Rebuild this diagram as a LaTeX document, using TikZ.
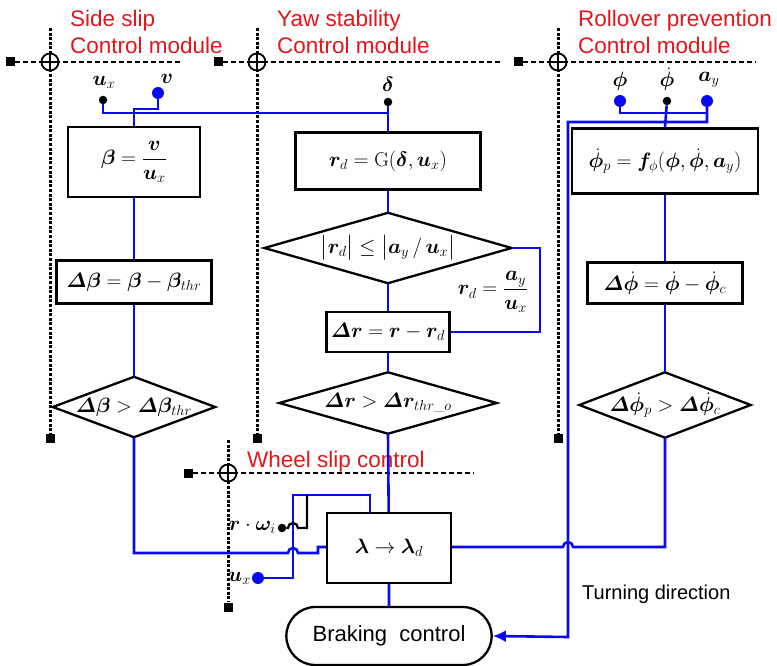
\documentclass[tikz,border=0pt]{standalone}
\usepackage{amsmath}
\usepackage{bm}
\usepackage{fontspec}
\setsansfont{Liberation Sans}
\usetikzlibrary{shapes.misc,arrows.meta}

\definecolor{modred}{RGB}{228,22,28}
\definecolor{wire}{RGB}{10,10,240}
\newcommand{\eqsize}{\fontsize{20}{24}\selectfont}

\begin{document}
\begin{tikzpicture}[x=1pt, y=-1pt,
    blk/.style={draw, line width=2.3pt, inner sep=0pt, font=\eqsize},
    cond/.style={inner sep=0pt, font=\eqsize},
    outline/.style={line width=2.3pt, line join=miter},
    flow/.style={draw=wire, line width=2.6pt},
    modtext/.style={text=modred, font=\sffamily\fontsize{22.5}{27}\selectfont, inner sep=0pt, anchor=base west},
    guide/.style={line width=2.8pt, dash pattern=on 5pt off 3pt},
    vguide/.style={line width=3pt, dash pattern=on 3pt off 1.6pt},
    sq/.style={fill=black, minimum size=9pt, inner sep=0pt},
    cross/.style={circle, draw, line width=1.8pt, minimum size=17pt, inner sep=0pt, fill=white,
        path picture={\draw[line width=1.8pt] (path picture bounding box.north) -- (path picture bounding box.south)
            (path picture bounding box.west) -- (path picture bounding box.east);}},
    bdot/.style={circle, fill=wire, minimum size=12pt, inner sep=0pt},
    kdot/.style={circle, fill=black, minimum size=8.5pt, inner sep=0pt},
    sym/.style={font=\eqsize, inner sep=0pt}
]
\useasboundingbox (0,0) rectangle (777,666);

% module frames
\node[sq] (sqA) at (10,62) {};
\node[sq] (sqAb) at (50,438) {};
\coordinate (topA) at (50,28);
\coordinate (endA) at (180,62);
\node[sq] (sqB) at (218,62) {};
\node[sq] (sqBb) at (257,438) {};
\coordinate (topB) at (257,28);
\coordinate (endB) at (500,62);
\node[sq] (sqC) at (518,62) {};
\node[sq] (sqCb) at (558,438) {};
\coordinate (topC) at (558,28);
\coordinate (endC) at (755,62);
\node[sq] (sqW) at (188,473) {};
\node[sq] (sqWb) at (228,607) {};
\coordinate (topW) at (228,440);
\coordinate (endW) at (473,473);

\draw[guide] (sqA) -- (endA);
\draw[vguide] (topA) -- (sqAb);
\draw[guide] (sqB) -- (endB);
\draw[vguide] (topB) -- (sqBb);
\draw[guide] (sqC) -- (endC);
\draw[vguide] (topC) -- (sqCb);
\draw[guide] (sqW) -- (endW);
\draw[vguide] (topW) -- (sqWb);

\node[cross] (xA) at (50,62) {};
\node[cross] (xB) at (257,62) {};
\node[cross] (xC) at (558,62) {};
\node[cross] (xW) at (228,473) {};

\node[modtext] (titA1) at (70,27) {Side slip};
\node[modtext] (titA2) at (70,54) {Control module};
\node[modtext] (titB1) at (277,27) {Yaw stability};
\node[modtext] (titB2) at (277,54) {Control module};
\node[modtext] (titC1) at (578,27) {Rollover prevention};
\node[modtext] (titC2) at (578,54) {Control module};
\node[modtext] (titW) at (247,467) {Wheel slip control};

% side slip column
\node[blk, minimum width=132pt, minimum height=70pt] (beta) at (134,162) {$\bm{\beta} = \dfrac{\bm{v}}{\bm{u}_x}$};
\node[blk, minimum width=155pt, minimum height=43pt] (dbeta) at (134,282) {$\bm{\varDelta\beta} = \bm{\beta} - \bm{\beta}_{thr}$};
\node[cond, minimum width=162pt, minimum height=60pt] (cbeta) at (134,407) {$\bm{\varDelta\beta} > \bm{\varDelta\beta}_{thr}$};
\draw[outline] (cbeta.north) -- (cbeta.east) -- (cbeta.south) -- (cbeta.west) -- cycle;

% yaw column
\node[blk, minimum width=185pt, minimum height=57pt] (rd) at (388,161) {$\bm{r}_d = \mathrm{G}(\bm{\delta},\bm{u}_x)$};
\node[cond, minimum width=247pt, minimum height=70pt] (clim) at (388,248) {$\bigl|\bm{r}_d\bigr| \le \bigl|\bm{a}_y\,/\,\bm{u}_x\bigr|$};
\draw[outline] (clim.north) -- (clim.east) -- (clim.south) -- (clim.west) -- cycle;
\node[blk, minimum width=123pt, minimum height=40pt] (dr) at (388,332) {$\bm{\varDelta r} = \bm{r} - \bm{r}_d$};
\node[cond, minimum width=217pt, minimum height=61pt] (cr) at (388,403) {$\bm{\varDelta r} > \bm{\varDelta r}_{thr\_o}$};
\draw[outline] (cr.north) -- (cr.east) -- (cr.south) -- (cr.west) -- cycle;
\node[sym] (rdlim) at (493,292) {$\bm{r}_d = \dfrac{\bm{a}_y}{\bm{u}_x}$};

% rollover column
\node[blk, minimum width=186pt, minimum height=65pt] (php) at (665,161) {$\dot{\bm{\phi}}_p = \bm{f}_{\phi}(\bm{\phi},\dot{\bm{\phi}},\bm{a}_y)$};
\node[blk, minimum width=155pt, minimum height=41pt] (dph) at (665,283) {$\bm{\varDelta}\dot{\bm{\phi}} = \dot{\bm{\phi}} - \dot{\bm{\phi}}_c$};
\node[cond, minimum width=171pt, minimum height=65pt] (cph) at (665,405) {$\bm{\varDelta}\dot{\bm{\phi}}_p > \bm{\varDelta}\dot{\bm{\phi}}_c$};
\draw[outline] (cph.north) -- (cph.east) -- (cph.south) -- (cph.west) -- cycle;

% wheel slip and braking
\node[blk, minimum width=124pt, minimum height=70pt] (lam) at (389,548) {$\bm{\lambda} \rightarrow \bm{\lambda}_d$};
\node[rounded rectangle, draw, line width=2.3pt, minimum width=212pt, minimum height=58pt,
    font=\sffamily\fontsize{22}{26}\selectfont] (brake) at (389,636) {Braking\ \ control};
\node[font=\sffamily\fontsize{20}{24}\selectfont, inner sep=0pt, anchor=base west] (turn) at (582,599) {Turning direction};

% inputs
\node[kdot] (iux) at (103,100) {};
\node[sym] (lux) at (104,82) {$\bm{u}_x$};
\node[bdot] (iv) at (158,93) {};
\node[sym] (lv) at (167,79) {$\bm{v}$};
\node[kdot] (idel) at (388,102) {};
\node[sym] (ldel) at (388,84) {$\bm{\delta}$};
\node[bdot] (iphi) at (620,101) {};
\node[sym] (lphi) at (620,81) {$\bm{\phi}$};
\node[kdot] (iphd) at (667,101) {};
\node[sym] (lphd) at (667,79) {$\dot{\bm{\phi}}$};
\node[bdot] (iay) at (707,101) {};
\node[sym] (lay) at (709,80) {$\bm{a}_y$};
\node[kdot] (iom) at (282,528) {};
\node[sym, anchor=east] (lom) at (276,527) {$\bm{r}\cdot\bm{\omega}_i$};
\node[bdot] (iux2) at (258,578) {};
\node[sym, anchor=east] (lux2) at (251,578) {$\bm{u}_x$};

% connectors
\draw[flow] (iux) |- (idel |- 0,113) -- (rd.north);
\draw[flow] (idel) -- (rd.north);
\draw[flow] (iv) -- (158,109) -| (beta.north);
\draw[flow] (beta) -- (dbeta);
\draw[flow] (dbeta) -- (cbeta.north);
\draw[flow] (rd) -- (clim.north);
\draw[flow] (clim.south) -- (dr);
\draw[flow] (dr) -- (cr.north);
\draw[flow] (cr.south) -- (lam);
\draw[flow] (clim.east) -- (540,248) |- (dr.east);
\draw[flow] (php) -- (dph);
\draw[flow] (dph) -- (cph.north);
\draw[flow] (iphi) |- (iay |- 0,113);
\draw[flow, -{Latex[length=13pt,width=12pt]}] (iay) -- (707,122) -| (568,130) -- (568,637) -- (brake.east);
\draw[flow] (iphd) -- (php.north);
\draw[flow] (cbeta.south) |- (288,553) arc[start angle=180, end angle=0, radius=5pt] -- (318,553) -- (318,547) -- (lam.west |- 0,547);
\draw[flow] (cph.south) |- (573,547) arc[start angle=0, end angle=180, radius=5pt] -- (lam.east |- 0,547);
\draw[flow] (iux2) -| (293,495) -| (370,513);
\draw[line width=2.3pt] (iom) -- (288,528) arc[start angle=180, end angle=0, radius=5pt] -- (307,528) -- (307,495);
\draw[flow] (lam) -- (brake);

\end{tikzpicture}
\end{document}
